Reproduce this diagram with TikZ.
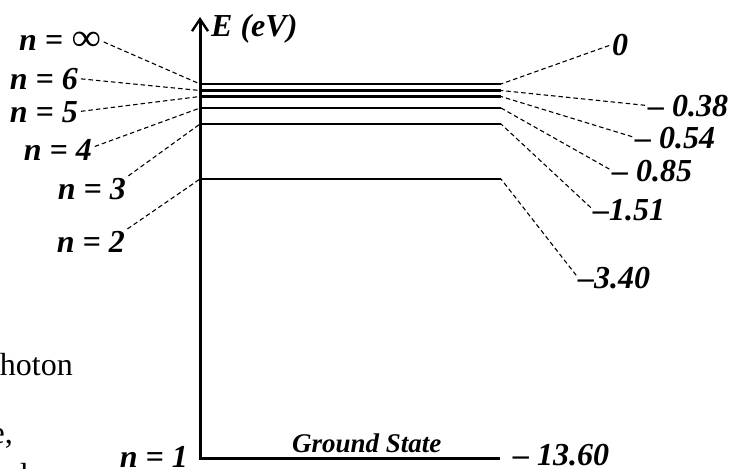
\documentclass[tikz,border=0pt]{standalone}
\usepackage{fontspec}
\usepackage{graphicx}
\setmainfont{Liberation Serif}
\usetikzlibrary{arrows.meta}
\tikzset{
  lab/.style={font=\fontsize{32}{38}\selectfont\bfseries\itshape, inner sep=0pt},
  gs/.style={font=\fontsize{27}{32}\selectfont\bfseries\itshape, inner sep=0pt},
  plain/.style={font=\fontsize{32}{38}\selectfont, inner sep=0pt},
  level/.style={line width=2.6pt},
  axisline/.style={line width=3pt},
  lead/.style={dashed, dash pattern=on 4.5pt off 3pt, line width=1.1pt, shorten <=3pt}
}
\begin{document}
\begin{tikzpicture}[x=1pt,y=-1pt]
\useasboundingbox (0,0) rectangle (729,469);
\clip (0,0) rectangle (729,469);
% coordinates
\coordinate (top) at (200,17);
\coordinate (corner) at (200,458);
\coordinate (gE) at (500,458);
\coordinate (Linf) at (200,84);  \coordinate (Rinf) at (501,84);
\coordinate (L6) at (200,90.5);  \coordinate (R6) at (501,90.5);
\coordinate (L5) at (200,96.5);  \coordinate (R5) at (501,96.5);
\coordinate (L4) at (200,108);   \coordinate (R4) at (501,108);
\coordinate (L3) at (200,124);   \coordinate (R3) at (501,124);
\coordinate (L2) at (200,179);   \coordinate (R2) at (501,179);
% levels
\draw[level] (Linf) -- (Rinf);
\draw[level] (L6) -- (R6);
\draw[level] (L5) -- (R5);
\draw[level] (L4) -- (R4);
\draw[level] (L3) -- (R3);
\draw[level] (L2) -- (R2);
% axis and ground state
\draw[axisline, -{Straight Barb[length=12pt,width=16pt,line width=2.4pt]}] (gE) -- (corner) -- (top);
% labels left
\node[lab, anchor=base east] (ninf) at (101,50) {n = \scalebox{1.3}[1.2]{∞}};
\node[lab, anchor=base east] (n6) at (78,89) {n = 6};
\node[lab, anchor=base east] (n5) at (78,122) {n = 5};
\node[lab, anchor=base east] (n4) at (92,160) {n = 4};
\node[lab, anchor=base east] (n3) at (126,199) {n = 3};
\node[lab, anchor=base east] (n2) at (125,252) {n = 2};
\node[lab, anchor=base east] (n1) at (188,467) {n = 1};
% labels right
\node[lab, anchor=base west] (e0) at (612,55) {0};
\node[lab, anchor=base west] (e6) at (648,116) {– 0.38};
\node[lab, anchor=base west] (e5) at (635,148) {– 0.54};
\node[lab, anchor=base west] (e4) at (612,181) {– 0.85};
\node[lab, anchor=base west] (e3) at (593,220) {–1.51};
\node[lab, anchor=base west] (e2) at (578,288) {–3.40};
\node[lab, anchor=base west] (e1) at (513,465) {– 13.60};
\node[lab, anchor=base west] (ax) at (211,36) {E (eV)};
\node[gs, anchor=base west] (gst) at (292,452) {Ground State};
% partial text at left edge
\node[plain, anchor=base east] (ph) at (73,375) {photon};
\node[plain, anchor=base east] (ec) at (13,443) {e,};
\node[plain, anchor=base east] (dd) at (28,485) {d};
% leaders left
\draw[lead] (ninf.east) -- (Linf);
\draw[lead] (n6.east) -- (L6);
\draw[lead] (n5.east) -- (L5);
\draw[lead] ([yshift=2pt]n4.east) -- (L4);
\draw[lead] (n3.north east) -- (L3);
\draw[lead] (n2.north east) -- (L2);
% leaders right
\draw[lead] (e0.west) -- (Rinf);
\draw[lead] (e6.west) -- (R6);
\draw[lead] (e5.west) -- (R5);
\draw[lead] (e4.west) -- (R4);
\draw[lead] (e3.west) -- (R3);
\draw[lead] (e2.west) -- (R2);
\end{tikzpicture}
\end{document}
